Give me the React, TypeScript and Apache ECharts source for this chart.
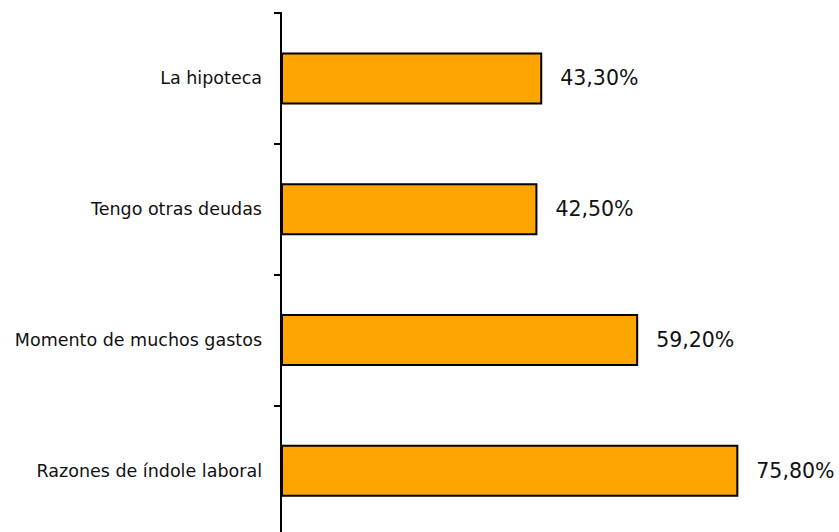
import React, { useEffect, useRef } from "react";
import * as echarts from "echarts";

const categories = [
  "La hipoteca",
  "Tengo otras deudas",
  "Momento de muchos gastos",
  "Razones de índole laboral",
];
const values = [43.3, 42.5, 59.2, 75.8];

export default function App() {
  const ref = useRef<HTMLDivElement>(null);
  useEffect(() => {
    if (!ref.current) return;
    const chart = echarts.init(ref.current, null, { renderer: "svg" });
    chart.setOption({
      animation: false,
      grid: { left: 281, right: 15, top: 13, bottom: 4, containLabel: false },
      xAxis: {
        type: "value",
        min: 0,
        max: 90,
        show: false,
      },
      yAxis: {
        type: "category",
        data: categories,
        inverse: true,
        axisLine: { show: true, lineStyle: { color: "#000", width: 2 } },
        axisTick: { show: true, length: 7, lineStyle: { color: "#000", width: 2 } },
        axisLabel: {
          margin: 19,
          color: "#111",
          fontFamily: "DejaVu Sans",
          fontSize: 17.5,
        },
        splitLine: { show: false },
      },
      series: [
        {
          type: "bar",
          data: values,
          barWidth: 52,
          itemStyle: { color: "#FFA500", borderColor: "#000", borderWidth: 2 },
          label: {
            show: true,
            position: "right",
            distance: 18,
            color: "#111",
            fontFamily: "DejaVu Sans",
            fontSize: 20.5,
            formatter: (p: any) => p.value.toFixed(2).replace(".", ",") + "%",
          },
        },
      ],
    });
    return () => chart.dispose();
  }, []);
  return (
    <div style={{ position: "absolute", left: 0, top: 0, width: 839, height: 532, overflow: "hidden" }}>
      <div ref={ref} style={{ width: 839, height: 540 }} />
    </div>
  );
}
